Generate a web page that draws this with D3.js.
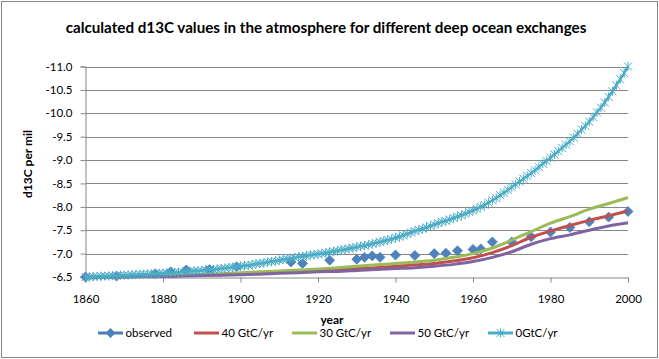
<!DOCTYPE html>
<html>
<head>
<meta charset="utf-8">
<script src="https://cdn.jsdelivr.net/npm/d3@7"></script>
<style>
  body { margin: 0; background: #fff; }
  svg { display: block; font-family: Lato, 'Open Sans', sans-serif; }
</style>
</head>
<body>
<div id="chart"></div>
<script>
// observed d13C (diamonds, no line)
var obsYears = [1860, 1868, 1878, 1882, 1886, 1892, 1899, 1913, 1916, 1923, 1930, 1932, 1934, 1936, 1940,
  1945, 1950, 1953, 1956, 1960, 1962, 1965, 1970, 1975, 1980, 1985, 1990, 1995, 2000];
var obsValues = [-6.50, -6.52, -6.57, -6.61, -6.65, -6.66, -6.72, -6.82, -6.79, -6.86, -6.88, -6.92, -6.95, -6.92, -6.97,
  -6.96, -7.00, -7.01, -7.06, -7.09, -7.10, -7.25, -7.25, -7.36, -7.46, -7.56, -7.68, -7.78, -7.90];

// model runs, read every 5 years
var modelYears = [1860, 1865, 1870, 1875, 1880, 1885, 1890, 1895, 1900, 1905, 1910, 1915, 1920, 1925, 1930,
  1935, 1940, 1945, 1950, 1955, 1960, 1965, 1970, 1975, 1980, 1985, 1990, 1995, 2000];
var gtc40 = [-6.50, -6.50, -6.51, -6.51, -6.52, -6.53, -6.54, -6.55, -6.56, -6.58, -6.60, -6.62, -6.64, -6.66, -6.68,
  -6.70, -6.73, -6.76, -6.79, -6.84, -6.91, -7.02, -7.17, -7.35, -7.48, -7.60, -7.71, -7.81, -7.91];
var gtc30 = [-6.50, -6.50, -6.51, -6.52, -6.53, -6.54, -6.56, -6.57, -6.59, -6.61, -6.63, -6.65, -6.67, -6.70, -6.73,
  -6.76, -6.79, -6.82, -6.86, -6.92, -7.00, -7.12, -7.29, -7.47, -7.65, -7.79, -7.95, -8.07, -8.20];
var gtc50 = [-6.50, -6.50, -6.50, -6.51, -6.51, -6.52, -6.53, -6.54, -6.55, -6.56, -6.58, -6.59, -6.61, -6.62, -6.64,
  -6.66, -6.68, -6.70, -6.73, -6.77, -6.83, -6.92, -7.04, -7.20, -7.32, -7.40, -7.50, -7.59, -7.66];

// 0 GtC/yr run, yearly 1860..2000
var zeroYears = d3.range(1860, 2001);
var gtc0 = [
  -6.50, -6.50, -6.51, -6.51, -6.52, -6.52, -6.52, -6.53, -6.53, -6.54,
  -6.54, -6.54, -6.55, -6.55, -6.56, -6.56, -6.56, -6.57, -6.57, -6.58,
  -6.58, -6.59, -6.59, -6.60, -6.60, -6.61, -6.62, -6.62, -6.63, -6.63,
  -6.64, -6.65, -6.66, -6.66, -6.67, -6.68, -6.69, -6.70, -6.71, -6.72,
  -6.73, -6.74, -6.75, -6.76, -6.78, -6.79, -6.80, -6.82, -6.83, -6.84,
  -6.86, -6.87, -6.89, -6.90, -6.91, -6.93, -6.94, -6.95, -6.97, -6.98,
  -6.99, -7.00, -7.02, -7.03, -7.05, -7.06, -7.08, -7.09, -7.11, -7.12,
  -7.14, -7.16, -7.17, -7.19, -7.21, -7.23, -7.25, -7.27, -7.29, -7.31,
  -7.34, -7.36, -7.39, -7.42, -7.45, -7.48, -7.51, -7.53, -7.56, -7.59,
  -7.62, -7.65, -7.68, -7.70, -7.73, -7.76, -7.79, -7.82, -7.85, -7.89,
  -7.92, -7.96, -8.00, -8.04, -8.09, -8.14, -8.19, -8.25, -8.30, -8.36,
  -8.42, -8.48, -8.54, -8.60, -8.66, -8.72, -8.78, -8.85, -8.92, -8.98,
  -9.05, -9.12, -9.19, -9.26, -9.33, -9.40, -9.48, -9.56, -9.65, -9.73,
  -9.82, -9.92, -10.02, -10.12, -10.23, -10.35, -10.47, -10.60, -10.73, -10.86,
  -11.00];

var xTicks = [1860, 1880, 1900, 1920, 1940, 1960, 1980, 2000];
var yTicks = [-6.5, -7.0, -7.5, -8.0, -8.5, -9.0, -9.5, -10.0, -10.5, -11.0];

var width = 659, height = 359,
  plot = {left: 85.5, right: 628, top: 66.5, bottom: 277},
  gridColor = '#868686';

var x = d3.scaleLinear().domain([1860, 2000]).range([plot.left, plot.right]);
// reversed value axis: -6.5 at the bottom, -11.0 on top
var y = d3.scaleLinear().domain([-6.5, -11.0]).range([plot.bottom, plot.top]);

var svg = d3.select('#chart').append('svg')
  .attr('width', width).attr('height', height);

svg.append('rect')
  .attr('x', 1.5).attr('y', 1.5)
  .attr('width', width - 3).attr('height', height - 3)
  .attr('fill', '#fff').attr('stroke', gridColor);

svg.append('text')
  .attr('x', 326).attr('y', 33)
  .attr('text-anchor', 'middle')
  .attr('font-size', 15.2).attr('font-weight', 'bold')
  .text('calculated d13C values in the atmosphere for different deep ocean exchanges');

// gridlines
svg.append('g').selectAll('line')
  .data(yTicks.slice(1)).enter().append('line')
  .attr('x1', plot.left).attr('x2', plot.right)
  .attr('y1', function(d) { return Math.round(y(d)) + 0.5; })
  .attr('y2', function(d) { return Math.round(y(d)) + 0.5; })
  .attr('stroke', gridColor);

// y axis
var yAxis = svg.append('g')
  .attr('transform', 'translate(' + plot.left + ',0)')
  .call(d3.axisLeft(y).tickValues(yTicks).tickSize(5).tickPadding(8)
    .tickFormat(function(d) { return d.toFixed(1); }));
// x axis
var xAxis = svg.append('g')
  .attr('transform', 'translate(0,' + (Math.round(plot.bottom) + 0.5) + ')')
  .call(d3.axisBottom(x).tickValues(xTicks).tickSize(5).tickPadding(12)
    .tickFormat(d3.format('d')));

[yAxis, xAxis].forEach(function(a) {
  a.select('.domain').attr('stroke', gridColor);
  a.selectAll('.tick line').attr('stroke', gridColor);
  a.selectAll('.tick text').attr('fill', '#000').attr('font-size', 11.5)
    .attr('font-family', "Lato, 'Open Sans', sans-serif");
});

svg.append('text')
  .attr('transform', 'translate(32,164) rotate(-90)')
  .attr('text-anchor', 'middle')
  .attr('font-size', 12).attr('font-weight', 'bold')
  .text('d13C per mil');

svg.append('text')
  .attr('x', 332).attr('y', 324)
  .attr('text-anchor', 'middle')
  .attr('font-size', 12).attr('font-weight', 'bold')
  .text('year');

var series = [
  {name: '40 GtC/yr', color: '#C0504D', years: modelYears, values: gtc40},
  {name: '30 GtC/yr', color: '#9BBB59', years: modelYears, values: gtc30},
  {name: '50 GtC/yr', color: '#8064A2', years: modelYears, values: gtc50}
];

var line = d3.line()
  .x(function(d) { return x(d[0]); })
  .y(function(d) { return y(d[1]); })
  .curve(d3.curveMonotoneX);

function pairs(years, values) {
  return years.map(function(yr, i) { return [yr, values[i]]; });
}

var diamond = d3.symbol(d3.symbolSquare, 50);
var star = 'M-4,-4L4,4M-4,4L4,-4M0,-4.5L0,4.5';

// observed diamonds (drawn first, Excel series order)
svg.append('g').selectAll('path')
  .data(pairs(obsYears, obsValues)).enter().append('path')
  .attr('d', diamond)
  .attr('transform', function(d) { return 'translate(' + x(d[0]) + ',' + y(d[1]) + ') rotate(45)'; })
  .attr('fill', '#4F81BD').attr('stroke', '#4A7EBB').attr('stroke-width', 0.75);

series.forEach(function(s) {
  svg.append('path')
    .datum(pairs(s.years, s.values))
    .attr('d', line)
    .attr('fill', 'none')
    .attr('stroke', s.color)
    .attr('stroke-width', 3)
    .attr('stroke-linejoin', 'round');
});

var zeroData = pairs(zeroYears, gtc0);
svg.append('path')
  .datum(zeroData)
  .attr('d', line)
  .attr('fill', 'none')
  .attr('stroke', '#4BACC6')
  .attr('stroke-width', 2.5);
svg.append('g').selectAll('path')
  .data(zeroData).enter().append('path')
  .attr('d', star)
  .attr('transform', function(d) { return 'translate(' + x(d[0]) + ',' + y(d[1]) + ')'; })
  .attr('fill', 'none').attr('stroke', '#4BACC6').attr('stroke-width', 1);

// legend
var legendItems = [
  {name: 'observed', color: '#4A7EBB', marker: 'diamond', x: 98},
  {name: '40 GtC/yr', color: '#C0504D', marker: null, x: 194},
  {name: '30 GtC/yr', color: '#9BBB59', marker: null, x: 292},
  {name: '50 GtC/yr', color: '#8064A2', marker: null, x: 390},
  {name: '0GtC/yr', color: '#4BACC6', marker: 'star', x: 488}
];
var legendY = 333;
var lg = svg.append('g').selectAll('g')
  .data(legendItems).enter().append('g')
  .attr('transform', function(d) { return 'translate(' + d.x + ',' + legendY + ')'; });
lg.append('line')
  .attr('x1', 0).attr('x2', 25).attr('y1', 0).attr('y2', 0)
  .attr('stroke', function(d) { return d.color; })
  .attr('stroke-width', 3);
lg.filter(function(d) { return d.marker === 'diamond'; }).append('path')
  .attr('d', diamond)
  .attr('transform', 'translate(12.5,0) rotate(45)')
  .attr('fill', '#4F81BD');
lg.filter(function(d) { return d.marker === 'star'; }).append('path')
  .attr('d', star)
  .attr('transform', 'translate(12.5,0)')
  .attr('fill', 'none').attr('stroke', '#4BACC6').attr('stroke-width', 1);
lg.append('text')
  .attr('x', 27.5).attr('y', 0).attr('dy', '0.35em')
  .attr('font-size', 11.5)
  .text(function(d) { return d.name; });
</script>
</body>
</html>
